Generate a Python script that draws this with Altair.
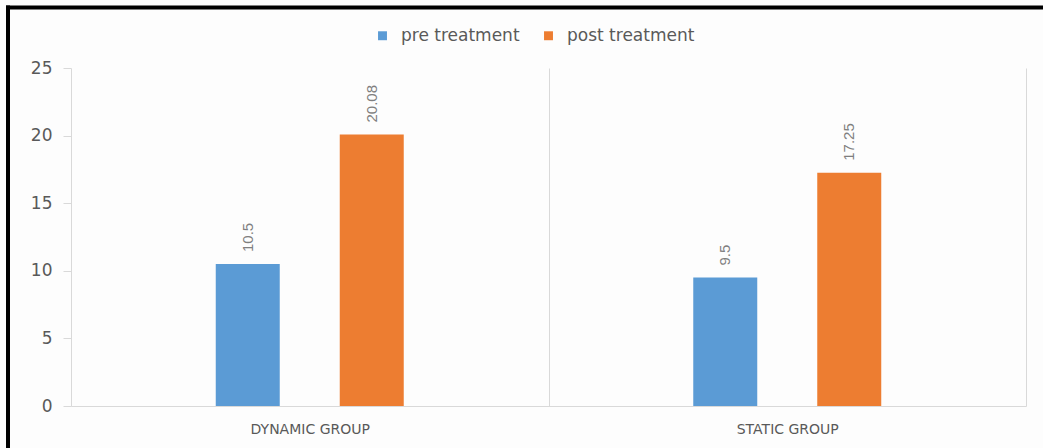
import altair as alt
import pandas as pd

groups = ["DYNAMIC GROUP", "STATIC GROUP"]
series = ["pre treatment", "post treatment"]
pre_values = [10.5, 9.5]
post_values = [20.08, 17.25]
colors = ["#5B9BD5", "#ED7D31"]
y_ticks = [0, 5, 10, 15, 20, 25]

rows = []
for g, a, b in zip(groups, pre_values, post_values):
    rows.append({"group": g, "series": series[0], "value": a})
    rows.append({"group": g, "series": series[1], "value": b})
df = pd.DataFrame(rows)

grid = "#d9d9d9"
txt = "#595959"

x_enc = alt.X(
    "group:N",
    sort=groups,
    scale=alt.Scale(paddingInner=0, paddingOuter=0),
    axis=alt.Axis(
        title=None, labelAngle=0, ticks=False, grid=True, gridColor=grid,
        tickBand="extent", domainColor=grid, labelColor=txt, labelFontSize=14,
        labelFont="DejaVu Sans", labelPadding=16,
    ),
)
xoff = alt.XOffset(
    "series:N", sort=series,
    scale=alt.Scale(paddingInner=0.149, paddingOuter=1),
)
y_enc = alt.Y(
    "value:Q",
    scale=alt.Scale(domain=[0, 25], nice=False, zero=True),
    axis=alt.Axis(
        title=None, values=y_ticks, grid=False, domain=False, tickColor=grid,
        tickSize=8, labelPadding=11, labelColor=txt, labelFontSize=17,
        labelFont="DejaVu Sans",
    ),
)

bars = alt.Chart(df).mark_bar(width=64).encode(
    x=x_enc,
    xOffset=xoff,
    y=y_enc,
    color=alt.Color(
        "series:N", sort=series,
        scale=alt.Scale(domain=series, range=colors),
        legend=alt.Legend(
            title=None, orient="none", direction="horizontal",
            legendX=303, legendY=-41, symbolType="square", symbolSize=80,
            symbolStrokeWidth=0, labelFontSize=17, labelFont="DejaVu Sans",
            labelColor=txt, labelOffset=10, columnPadding=20, padding=0,
        ),
    ),
)

labels = alt.Chart(df).mark_text(
    angle=270, align="left", baseline="middle", dx=12,
    font="Liberation Sans Narrow, Liberation Sans", fontSize=15, color="#7f7f7f",
).encode(
    x=alt.X("group:N", sort=groups),
    xOffset=alt.XOffset("series:N", sort=series),
    y=alt.Y("value:Q"),
    text=alt.Text("value:Q"),
)

frame_top = alt.Chart().mark_rule(color="#000000", strokeWidth=4).encode(
    x=alt.value(-65), x2=alt.value(975), y=alt.value(-60.5)
)
frame_left = alt.Chart().mark_rule(color="#000000", strokeWidth=4).encode(
    x=alt.value(-63), y=alt.value(-62.5), y2=alt.value(385)
)

chart = alt.layer(bars, labels, frame_top, frame_left).properties(
    width=955, height=338,
    padding={"left": 71, "top": 68, "right": 17, "bottom": 42},
    autosize=alt.AutoSizeParams(type="none"),
    background="#fdfdfd",
).configure_view(stroke=None)

chart.save("out.html", embed_options={"renderer": "svg", "actions": False})
